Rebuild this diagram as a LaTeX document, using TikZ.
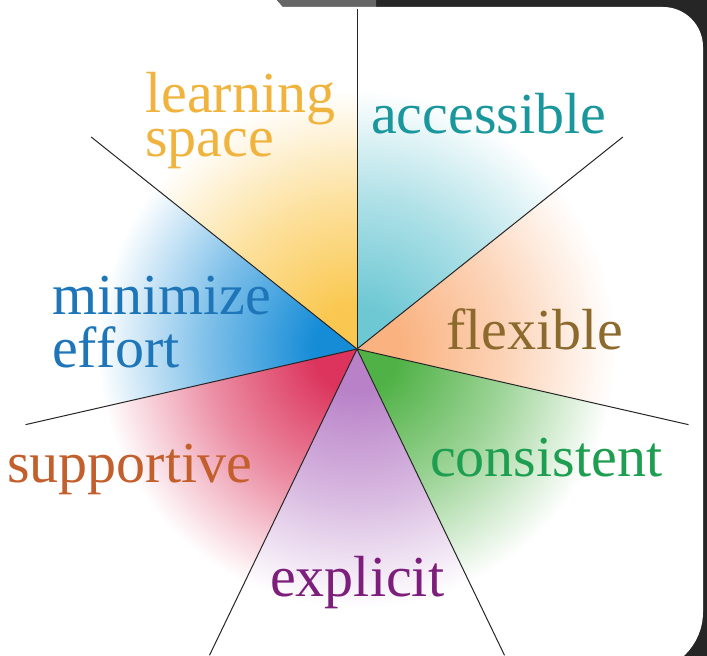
\documentclass[tikz,border=0pt]{standalone}
\usepackage{fontspec}
\setmainfont{Liberation Serif}
\usepackage{xcolor}
\usetikzlibrary{calc}

\definecolor{bandGray}{RGB}{102,102,102}
\definecolor{bandDark}{RGB}{38,38,38}
\definecolor{fanYellow}{RGB}{250,200,80}
\definecolor{fanTeal}{RGB}{110,200,212}
\definecolor{fanPeach}{RGB}{250,178,128}
\definecolor{fanGreen}{RGB}{80,178,70}
\definecolor{fanPurple}{RGB}{185,130,200}
\definecolor{fanRed}{RGB}{220,52,92}
\definecolor{fanBlue}{RGB}{22,140,215}
\definecolor{txtYellow}{RGB}{240,180,62}
\definecolor{txtTeal}{RGB}{26,151,156}
\definecolor{txtBrown}{RGB}{140,105,45}
\definecolor{txtGreen}{RGB}{30,158,80}
\definecolor{txtPurple}{RGB}{125,30,125}
\definecolor{txtRust}{RGB}{195,95,45}
\definecolor{txtBlue}{RGB}{30,118,185}

\colorlet{fancol}{fanYellow}
\pgfdeclareradialshading[fancol]{fan}{\pgfpointorigin}{%
  color(0bp)=(fancol); color(4bp)=(fancol); color(14bp)=(fancol!55!white);
  color(24bp)=(white); color(25bp)=(white); color(50bp)=(white)}

\tikzset{
  ray/.style    = { line width=1pt, black!85 },
  word/.style   = { inner sep=0pt, anchor=base west,
                    font=\fontsize{58}{44}\selectfont }
}

\begin{document}
\begin{tikzpicture}[x=1pt,y=1pt]
  % Frame of the card
  \useasboundingbox (0,0) rectangle (707,656);
  \clip (0,0) rectangle (707,656);
  \fill[bandDark] (277,656) -- (707,656) -- (707,0) -- (600,0) -- (600,649) -- (283,649) -- cycle;
  \fill[bandGray] (277,656) -- (376,656) -- (376,649) -- (283,649) -- cycle;
  \fill[white] (-60,649) -- (663,649) arc[start angle=90, end angle=0, radius=40]
     -- (703,44) arc[start angle=0, end angle=-90, radius=60] -- (-60,-16) -- cycle;

  \coordinate (O) at (357,307);

  % Draw the coloured wedges
  \foreach \a/\c in {90/fanYellow, 141.43/fanBlue, 192.86/fanRed, 244.29/fanPurple,
                     295.71/fanGreen, 347.14/fanPeach, 38.57/fanTeal} {
    \begin{scope}
      \clip (O) -- ($(O)+(\a:340)$) arc[start angle=\a, delta angle=51.43, radius=340] -- cycle;
      \colorlet{fancol}{\c}
      \shade[shading=fan] (O) circle (270);
    \end{scope}
  }

  % Draw the rays
  \foreach \i in {0,...,6}
    \coordinate (r\i) at ($(O)+(90+\i*51.4286:340)$);
  \foreach \i in {0,...,6}
    \draw[ray] (O) -- (r\i);

  % Draw labels
  \node[word, txtYellow, align=left] (learn) at (145,499) {learning\\space};
  \node[word, txtTeal]   (access)  at (371,522) {accessible};
  \node[word, txtBlue]   (minim)   at (52,341)  {minimize};
  \node[word, txtBlue]   (effort)  at (52,288)  {effort};
  \node[word, txtBrown]  (flex)    at (446,306) {flexible};
  \node[word, txtGreen]  (consist) at (430,179) {consistent};
  \node[word, txtRust]   (support) at (7,173)   {supportive};
  \node[word, txtPurple] (explic)  at (270,59)  {explicit};
\end{tikzpicture}
\end{document}
